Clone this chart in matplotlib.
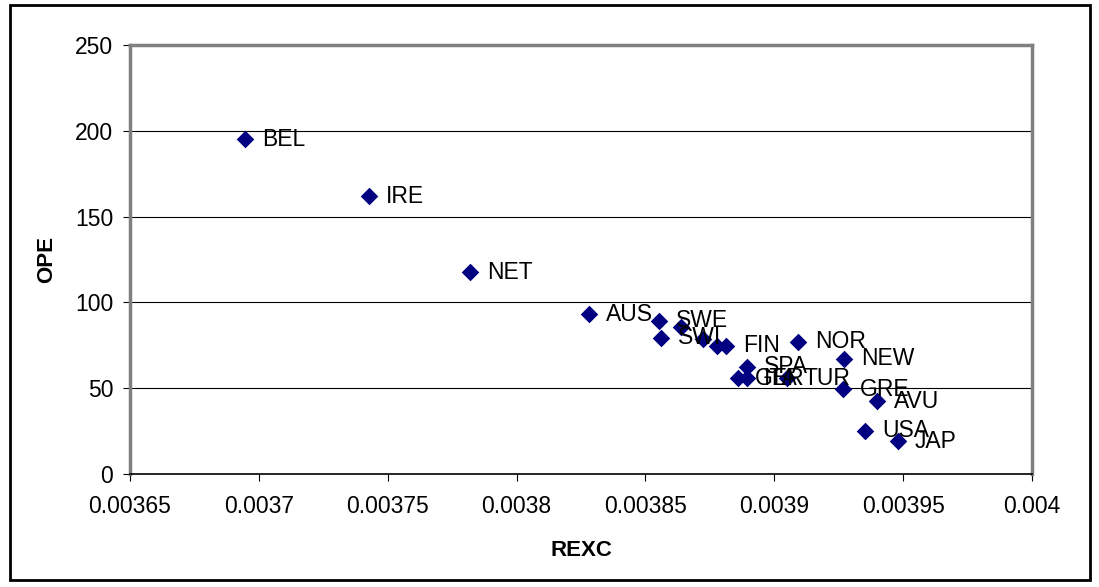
import matplotlib.pyplot as plt
from matplotlib.patches import Rectangle

plt.rcParams['font.family'] = ['Liberation Sans', 'DejaVu Sans']

# Countries: exchange-rate variable vs openness
countries = ["BEL", "IRE", "NET", "AUS", "SWE", "SWI", "", "", "", "FIN",
             "NOR", "NEW", "SPA", "GER", "ITA", "TUR", "GRE", "AVU", "USA", "JAP"]
rexc = [0.0036946, 0.0037427, 0.0037819, 0.0038280, 0.0038552, 0.0038560,
        0.0038637, 0.0038724, 0.0038776, 0.0038812, 0.0039091, 0.0039270,
        0.0038892, 0.0038858, 0.0038893, 0.0039049, 0.0039266, 0.0039398,
        0.0039351, 0.0039479]
ope = [195.2, 162.0, 117.7, 93.2, 89.3, 79.4, 85.5, 78.5, 74.6, 74.6,
       77.1, 67.2, 62.5, 55.9, 55.7, 55.9, 49.5, 42.5, 25.1, 19.2]

xticks = [0.00365, 0.0037, 0.00375, 0.0038, 0.00385, 0.0039, 0.00395, 0.004]
xticklabels = ["0.00365", "0.0037", "0.00375", "0.0038", "0.00385", "0.0039", "0.00395", "0.004"]
yticks = [0, 50, 100, 150, 200, 250]

fs = 16.5

fig = plt.figure(figsize=(10.99, 5.87), dpi=100)
fig.patches.append(Rectangle((0.009, 0.012), 0.983, 0.979, transform=fig.transFigure,
                             fill=False, edgecolor='black', linewidth=2))

ax = fig.add_axes([0.1183, 0.1925, 0.8208, 0.7308])
ax.scatter(rexc, ope, marker='D', s=80, color='#000080', zorder=3, linewidths=0)

for name, x, y in zip(countries, rexc, ope):
    if name:
        ax.annotate(name, (x, y), textcoords='offset pixels', xytext=(17, 0),
                    ha='left', va='center', fontsize=fs, color='black', zorder=4)

ax.set_xlim(0.00365, 0.004)
ax.set_ylim(0, 250)
ax.set_xticks(xticks)
ax.set_xticklabels(xticklabels)
ax.set_yticks(yticks)
ax.tick_params(axis='both', labelsize=fs, direction='out', length=5, color='black')
ax.tick_params(axis='x', pad=10)
ax.tick_params(axis='y', pad=7)

for y in yticks[1:-1]:
    ax.axhline(y, color='black', linewidth=0.8, zorder=1)

for side in ['top', 'right', 'left']:
    ax.spines[side].set_color('#808080')
    ax.spines[side].set_linewidth(2.5)
ax.spines['bottom'].set_color('black')
ax.spines['bottom'].set_linewidth(1.2)

ax.set_xlabel("REXC", fontsize=16, fontweight='bold', labelpad=16)
ax.set_ylabel("OPE", fontsize=16, fontweight='bold', labelpad=13)

fig.savefig("out.png", dpi=100)
